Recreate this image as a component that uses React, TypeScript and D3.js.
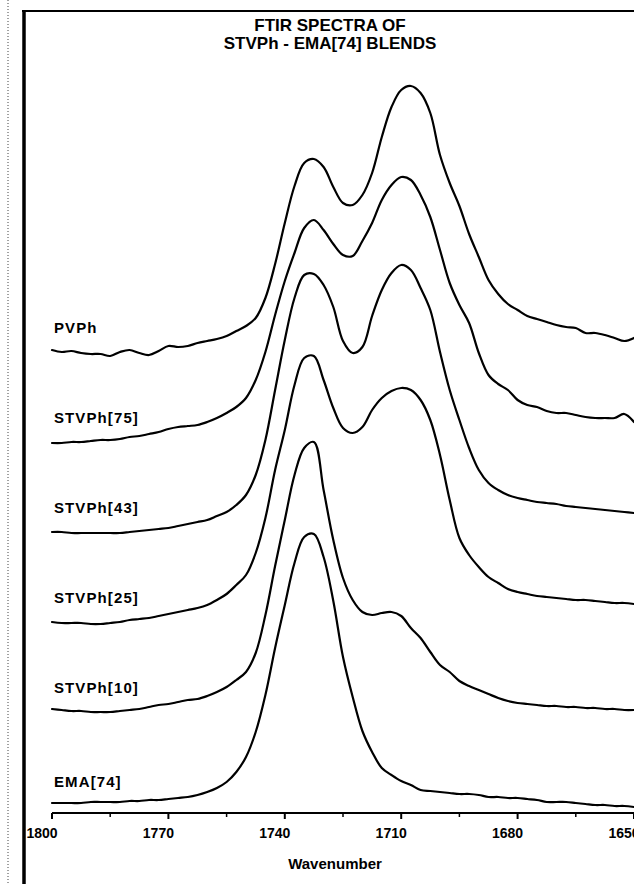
import React from "react";
import * as d3 from "d3";

// wavenumber grid (cm-1) shared by every spectrum
const wavenumbers = [
  1800, 1797.5, 1795, 1792.5, 1790, 1787.5, 1785, 1782.5, 1780, 1777.5,
  1775, 1772.5, 1770, 1767.5, 1765, 1762.5, 1760, 1757.5, 1755, 1752.5,
  1750, 1747.5, 1745, 1742.5, 1740, 1737.5, 1735, 1732.5, 1730, 1727.5,
  1725, 1722.5, 1720, 1717.5, 1715, 1712.5, 1710, 1707.5, 1705, 1702.5,
  1700, 1697.5, 1695, 1692.5, 1690, 1687.5, 1685, 1682.5, 1680, 1677.5,
  1675, 1672.5, 1670, 1667.5, 1665, 1662.5, 1660, 1657.5, 1655, 1652.5, 1650,
];

// absorbance (a.u.) of each spectrum above its own baseline
const pvph = [
  0.02, 0.0, 0.01, -0.01, -0.02, -0.02, -0.04, 0.0, 0.02, -0.01,
  -0.03, 0.01, 0.06, 0.05, 0.06, 0.09, 0.11, 0.13, 0.16, 0.21,
  0.26, 0.34, 0.54, 0.88, 1.29, 1.66, 1.89, 1.93, 1.85, 1.65,
  1.49, 1.47, 1.57, 1.79, 2.15, 2.45, 2.62, 2.66, 2.59, 2.39,
  1.97, 1.69, 1.46, 1.18, 0.95, 0.72, 0.58, 0.48, 0.42, 0.36,
  0.33, 0.3, 0.27, 0.25, 0.24, 0.19, 0.19, 0.17, 0.14, 0.11, 0.14,
];
const stvph75 = [
  -0.01, -0.01, 0.0, 0.0, 0.01, 0.02, 0.02, 0.03, 0.05, 0.06,
  0.08, 0.1, 0.13, 0.15, 0.16, 0.17, 0.2, 0.24, 0.29, 0.35,
  0.44, 0.62, 0.9, 1.27, 1.61, 1.89, 2.14, 2.22, 2.12, 1.98,
  1.87, 1.86, 2.01, 2.19, 2.42, 2.57, 2.65, 2.62, 2.47, 2.25,
  1.92, 1.59, 1.37, 1.19, 0.89, 0.67, 0.58, 0.52, 0.42, 0.37,
  0.35, 0.31, 0.29, 0.29, 0.27, 0.25, 0.24, 0.24, 0.24, 0.28, 0.2,
];
const stvph43 = [
  0.0, 0.0, -0.01, -0.01, -0.01, -0.01, -0.01, -0.01, 0.0, 0.01,
  0.02, 0.03, 0.04, 0.06, 0.08, 0.1, 0.12, 0.16, 0.2, 0.27,
  0.37, 0.57, 0.92, 1.42, 1.92, 2.34, 2.57, 2.58, 2.47, 2.25,
  1.91, 1.79, 1.85, 2.16, 2.42, 2.59, 2.67, 2.62, 2.44, 2.22,
  1.8, 1.42, 1.12, 0.84, 0.62, 0.49, 0.42, 0.37, 0.34, 0.32,
  0.3, 0.29, 0.28, 0.26, 0.25, 0.24, 0.23, 0.22, 0.21, 0.2, 0.19,
];
const stvph25 = [
  0.0, -0.01, -0.01, -0.01, -0.02, -0.02, -0.01, 0.0, 0.02, 0.03,
  0.04, 0.06, 0.08, 0.1, 0.12, 0.14, 0.17, 0.22, 0.28, 0.37,
  0.47, 0.69, 1.04, 1.52, 1.92, 2.37, 2.64, 2.66, 2.42, 2.14,
  1.94, 1.89, 1.95, 2.12, 2.24, 2.31, 2.34, 2.32, 2.22, 2.02,
  1.67, 1.22, 0.84, 0.67, 0.55, 0.45, 0.39, 0.33, 0.3, 0.28,
  0.26, 0.25, 0.24, 0.23, 0.22, 0.22, 0.21, 0.2, 0.19, 0.19, 0.18,
];
const stvph10 = [
  0.03, 0.02, 0.01, 0.01, 0.0, 0.0, 0.0, 0.01, 0.02, 0.03,
  0.05, 0.07, 0.08, 0.1, 0.12, 0.13, 0.16, 0.2, 0.25, 0.32,
  0.4, 0.59, 0.97, 1.46, 1.92, 2.37, 2.64, 2.7, 2.22, 1.72,
  1.34, 1.12, 1.0, 0.97, 0.99, 1.0, 0.96, 0.84, 0.74, 0.6,
  0.47, 0.4, 0.31, 0.26, 0.22, 0.18, 0.14, 0.11, 0.09, 0.08,
  0.07, 0.06, 0.06, 0.05, 0.05, 0.04, 0.04, 0.03, 0.03, 0.02, 0.02,
];
const ema74 = [
  -0.01, -0.01, -0.01, -0.01, 0.0, 0.0, 0.0, 0.0, 0.01, 0.01,
  0.02, 0.02, 0.03, 0.04, 0.05, 0.07, 0.1, 0.14, 0.2, 0.3,
  0.45, 0.7, 1.07, 1.54, 1.97, 2.39, 2.65, 2.68, 2.45, 2.01,
  1.45, 1.05, 0.71, 0.5, 0.34, 0.27, 0.21, 0.17, 0.12, 0.11,
  0.1, 0.09, 0.08, 0.08, 0.07, 0.05, 0.05, 0.04, 0.04, 0.03,
  0.02, 0.0, 0.0, 0.0, -0.01, -0.02, -0.03, -0.03, -0.04, -0.04, -0.05,
];

const seriesNames = ["PVPh", "STVPh[75]", "STVPh[43]", "STVPh[25]", "STVPh[10]", "EMA[74]"];
const seriesValues = [pvph, stvph75, stvph43, stvph25, stvph10, ema74];
// vertical stacking offset of each spectrum (a.u.)
const offsets = [4.6, 3.7, 2.8, 1.9, 1.0, 0.1];

const majorTicks = [1800, 1770, 1740, 1710, 1680, 1650];
const minorTicks = [1785, 1755, 1725, 1695, 1665];

const W = 634, H = 884;
const font = "'Liberation Sans', Arial, Helvetica, sans-serif";

export default function App() {
  const x = d3.scaleLinear().domain([1800, 1650]).range([52, 634]);
  const y = d3.scaleLinear().domain([0, 8]).range([812, 12]);

  const line = d3.line<[number, number]>()
    .x((d) => x(d[0]))
    .y((d) => y(d[1]))
    .curve(d3.curveCatmullRom);

  const axisY = 813;

  return (
    <svg width={W} height={H} style={{ position: "absolute", left: 0, top: 0, background: "#fff" }}
         fontFamily={font}>
      <rect x={0} y={0} width={W} height={H} fill="#fff" />

      {/* scan frame */}
      <line x1={8} y1={0} x2={8} y2={H} stroke="#444" strokeWidth={1} strokeDasharray="1 2" />
      <line x1={24} y1={10} x2={24} y2={H} stroke="#000" strokeWidth={3.5} />
      <line x1={22} y1={11} x2={W} y2={11} stroke="#000" strokeWidth={2} />

      {/* title */}
      <text x={330} y={31} textAnchor="middle" fontSize={17} fontWeight="bold">FTIR SPECTRA OF</text>
      <text x={330} y={49} textAnchor="middle" fontSize={17} fontWeight="bold">STVPh - EMA[74] BLENDS</text>

      {/* spectra */}
      {seriesValues.map((vals, i) => {
        const pts = wavenumbers.map((w, j) => [w, vals[j] + offsets[i]] as [number, number]);
        return (
          <g key={seriesNames[i]}>
            <path d={line(pts) || ""} fill="none" stroke="#000" strokeWidth={2.2}
                  strokeLinejoin="round" strokeLinecap="round" />
            <text x={54} y={y(offsets[i]) - (i === 5 ? 15 : 19)} fontSize={15} fontWeight="bold"
                  letterSpacing={1.1}>{seriesNames[i]}</text>
          </g>
        );
      })}

      {/* x axis */}
      <line x1={x(1800)} y1={axisY} x2={W} y2={axisY} stroke="#000" strokeWidth={2} />
      {majorTicks.map((t) => (
        <g key={t}>
          <line x1={x(t)} y1={axisY} x2={x(t)} y2={axisY + 6} stroke="#000" strokeWidth={2} />
          <text x={x(t) - 10} y={838} textAnchor="middle" fontSize={14} fontWeight="bold">{t}</text>
        </g>
      ))}
      {minorTicks.map((t) => (
        <line key={t} x1={x(t)} y1={axisY} x2={x(t)} y2={axisY + 4} stroke="#000" strokeWidth={1.5} />
      ))}
      <text x={335} y={869} textAnchor="middle" fontSize={15} fontWeight="bold">Wavenumber</text>
    </svg>
  );
}
